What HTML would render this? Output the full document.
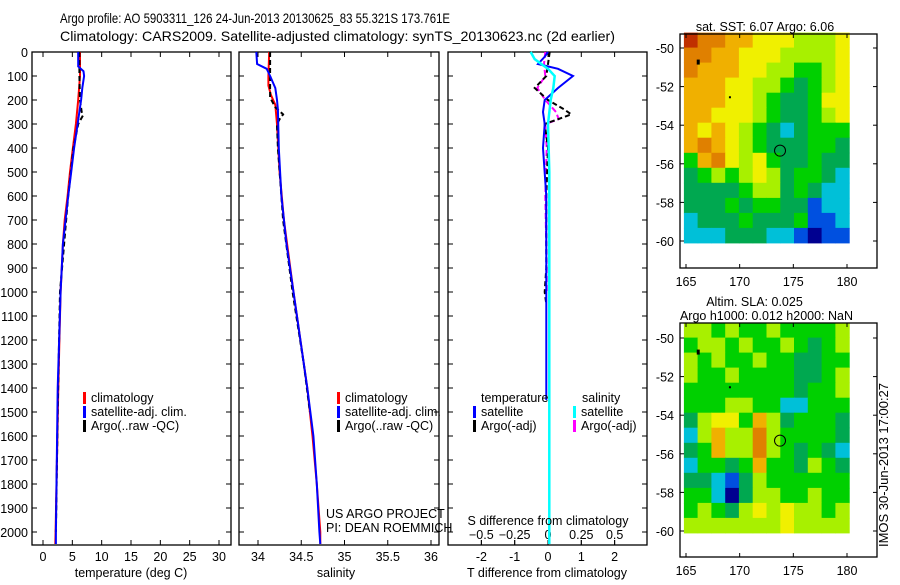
<!DOCTYPE html>
<html><head><meta charset="utf-8"><style>
body{margin:0;background:#fff;}
svg text{font-family:"Liberation Sans",sans-serif;font-size:12.5px;fill:#000;}
</style></head><body>
<svg id="fig" width="900" height="580" viewBox="0 0 900 580" xmlns="http://www.w3.org/2000/svg">
<text x="60" y="23" style="font-size:14px" textLength="390" lengthAdjust="spacingAndGlyphs">Argo profile: AO 5903311_126 24-Jun-2013 20130625_83 55.321S 173.761E</text>
<text x="60" y="41" style="font-size:14px" textLength="555" lengthAdjust="spacingAndGlyphs">Climatology: CARS2009. Satellite-adjusted climatology: synTS_20130623.nc (2d earlier)</text>
<g id="plots"></g>
<text transform="translate(888,465) rotate(-90)" text-anchor="middle" style="font-size:13px">IMOS 30-Jun-2013 17:00:27</text>
</svg>
<script>
// ---- data ----
const depthTicks=[0,100,200,300,400,500,600,700,800,900,1000,1100,1200,1300,1400,1500,1600,1700,1800,1900,2000];
const tempTicks=[0,5,10,15,20,25,30];
const salTicks=[34,34.5,35,35.5,36];
const tdiffTicks=[-2,-1,0,1,2];
const sdiffTicks=[-0.5,-0.25,0,0.25,0.5];
const lonTicks=[165,170,175,180];
const latTicks=[-50,-52,-54,-56,-58,-60];

const tClimDepth=[0,100,200,300,400,500,600,700,800,900,1000,1200,1400,1600,1800,2000,2050];
const tClim=[6.3,6.3,6.0,5.6,5.1,4.6,4.2,3.7,3.4,3.2,3.0,2.8,2.6,2.45,2.3,2.15,2.1];
const tSatDepth=[0,60,80,100,150,200,300,400,500,600,800,1000,1400,1600,1800,2000,2050];
const tSat=[6.0,6.0,6.9,7.0,6.7,6.5,5.9,5.3,4.8,4.3,3.4,3.0,2.5,2.4,2.3,2.2,2.2];
const tArgoDepth=[0,100,200,250,265,300,400,600,1000,1500,2000];
const tArgo=[6.2,6.2,6.3,6.6,6.8,6.0,5.2,4.3,2.9,2.5,2.2];

const sClimDepth=[0,100,140,180,220,300,500,700,1000,1200,1400,1600,1800,2000,2050];
const sClim=[34.13,34.12,34.12,34.15,34.2,34.22,34.25,34.3,34.41,34.49,34.57,34.63,34.68,34.72,34.72];
const sSatDepth=[0,50,70,100,150,200,240,400,600,800,1000,1200,1400,1600,1800,2000,2050];
const sSat=[33.98,33.99,34.1,34.14,34.2,34.22,34.23,34.24,34.27,34.33,34.41,34.49,34.57,34.64,34.68,34.71,34.72];
const sArgoDepth=[0,100,190,230,260,280,300,400,700,1000,1300,1500];
const sArgo=[34.14,34.14,34.14,34.2,34.29,34.25,34.22,34.23,34.29,34.4,34.53,34.6];

const dTSatDepth=[0,20,50,70,100,150,200,250,300,400,600,1000,1400,1450];
const dTSat=[0,-0.1,-0.3,0.3,0.75,0.3,-0.1,-0.15,-0.1,-0.15,-0.05,-0.05,-0.05,-0.05];
const dSSatDepth=[0,30,70,100,150,200,300,500,1000,2000,2050];
const dSSat=[-0.13,-0.1,0.0,0.05,0.04,0.02,0.0,0.01,0.01,0.01,0.01];
const dTArgoDepth=[0,50,100,150,200,240,260,300,400,600,900,1000,1050];
const dTArgo=[0.05,0.0,-0.05,-0.4,0.0,0.5,0.7,-0.1,0.0,-0.05,-0.05,-0.1,-0.05];
const dSArgoDepth=[0,50,100,150,200,250,280,300,400,600,900,1000];
const dSArgo=[-0.02,-0.03,-0.02,-0.08,-0.02,0.06,0.08,-0.02,-0.01,-0.02,-0.01,-0.01];

const sstGrid=[
"988776665556","887766655556","877766554456","777665543456","777665433466","776665433456",
"767654323444","787654333443","478656433433","345456534432","333345534322","333434433122",
"233343334112","222333221011"];
const slaGrid=[
"554544544445","455454454345","545445443344","544544443345","444444443445","444554422444",
"356647534443","257558544443","347558543432","244347443543","332135444444","442035544544",
"454356565545","555555565555"];
const palette=['#000090','#0050e0','#00c0d8','#00a850','#00d000','#a8f000','#f0f000','#f0b000','#e08000','#c03000'];

// ---- drawing ----
const NS='http://www.w3.org/2000/svg';
const root=document.getElementById('plots');
function el(tag,attrs,parent){const e=document.createElementNS(NS,tag);for(const k in attrs)e.setAttribute(k,attrs[k]);(parent||root).appendChild(e);return e;}
function txt(x,y,s,anchor,parent){const t=el('text',{x:x,y:y,'text-anchor':anchor||'start'},parent);t.textContent=s;return t;}

const Y0=52,Y1=545;
function yD(d){return 52+d*0.24;}

function panel(x0,x1,name){
  const g=el('g',{});
  
  
  const r=el('rect',{x:x0,y:Y0,width:x1-x0,height:Y1-Y0,fill:'none',stroke:'#000','stroke-width':1.3},g);
  
  
  depthTicks.forEach(d=>{el('line',{x1:x0,x2:x0+5,y1:yD(d),y2:yD(d),stroke:'#000'},g);el('line',{x1:x1,x2:x1-5,y1:yD(d),y2:yD(d),stroke:'#000'},g);});
  return g;
}
function xTicks(g,vals,fx,labels,ly){
  vals.forEach((v,i)=>{const x=fx(v);el('line',{x1:x,x2:x,y1:Y0,y2:Y0+5,stroke:'#000'},g);el('line',{x1:x,x2:x,y1:Y1,y2:Y1-5,stroke:'#000'},g);
    if(labels){const t=txt(x,ly,labels[i],'middle',g);}});
}
function line(g,ds,vs,fx,color,dash,name,w){
  const pts=ds.map((d,i)=>fx(vs[i]).toFixed(1)+','+yD(d).toFixed(1)).join(' ');
  const p=el('polyline',{points:pts,fill:'none',stroke:color,'stroke-width':w||2,'stroke-dasharray':dash||'none'},g);
  
  
}
function legend(g,x,y,items){
  items.forEach((it,i)=>{const yy=y+i*14;el('rect',{x:x,y:yy-10,width:3,height:12,fill:it[1]},g);const t=txt(x+8,yy,it[0],'start',g);
    });
}

depthTicks.forEach(d=>{const t=txt(28,yD(d)+5,String(d),'end');});

// Panel 1: temperature
const fT=v=>43+v*5.867;
const g1=panel(32,231,'temperature-panel');
xTicks(g1,tempTicks,fT,tempTicks.map(String),561);
line(g1,tClimDepth,tClim,fT,'#f00','none','temp-climatology-line');
line(g1,tArgoDepth,tArgo,fT,'#000','5,3','temp-argo-line');
line(g1,tSatDepth,tSat,fT,'#00f','none','temp-satellite-line');
legend(g1,83,402,[['climatology','#f00'],['satellite-adj. clim.','#00f'],['Argo(..raw -QC)','#000']]);
txt(131,577,'temperature (deg C)','middle',g1);

// Panel 2: salinity
const fS=v=>258+(v-34)*86.5;
const g2=panel(239,439,'salinity-panel');
xTicks(g2,salTicks,fS,salTicks.map(String),561);
line(g2,sClimDepth,sClim,fS,'#f00','none','sal-climatology-line');
line(g2,sArgoDepth,sArgo,fS,'#000','5,3','sal-argo-line');
line(g2,sSatDepth,sSat,fS,'#00f','none','sal-satellite-line');
legend(g2,337,402,[['climatology','#f00'],['satellite-adj. clim.','#00f'],['Argo(..raw -QC)','#000']]);
txt(326,518,'US ARGO PROJECT','start',g2);
txt(326,532,'PI: DEAN ROEMMICH','start',g2);
txt(336,577,'salinity','middle',g2);

// Panel 3: differences
const fDT=v=>548+v*33.3;
const fDS=v=>548+v*133.3;
const g3=panel(448,647,'difference-panel');
xTicks(g3,tdiffTicks,fDT,tdiffTicks.map(String),561);
sdiffTicks.forEach((v,i)=>{const x=fDS(v);el('line',{x1:x,x2:x,y1:545,y2:540,stroke:'#000'},g3);txt(x,539,['\u22120.5','\u22120.25','0','0.25','0.5'][i],'middle',g3);});
line(g3,dSArgoDepth,dSArgo,fDS,'#f0f','6,3','sdiff-argo-line');
line(g3,dTArgoDepth,dTArgo,fDT,'#000','5,3','tdiff-argo-line');
line(g3,dTSatDepth,dTSat,fDT,'#00f','none','tdiff-satellite-line');
line(g3,dSSatDepth,dSSat,fDS,'#0ff','none','sdiff-satellite-line',2.5);
txt(481,402,'temperature','start',g3);
txt(582,402,'salinity','start',g3);
legend(g3,473,416,[['satellite','#00f'],['Argo(-adj)','#000']]);
legend(g3,573,416,[['satellite','#0ff'],['Argo(-adj)','#f0f']]);
txt(548,525,'S difference from climatology','middle',g3);
txt(547,577,'T difference from climatology','middle',g3);

// Maps
const fLon=v=>686+(v-165)*10.733;
function map(grid,by0,latY50,latY60,title,name){
  const g=el('g',{});
  
  
  const fLat=v=>latY50+(-50-v)*(latY60-latY50)/10;
  const bx0=680,bx1=877,by1=by0+234;
  const ix0=fLon(164.8),ix1=fLon(180.2),iy0=fLat(-49.2),iy1=fLat(-60.1);
  const rows=grid.length,cols=grid[0].length;
  const cw=(ix1-ix0)/cols,ch=(iy1-iy0)/rows;
  grid.forEach((row,r)=>{for(let c=0;c<cols;c++){const cell=el('rect',{x:(ix0+c*cw).toFixed(1),y:(iy0+r*ch).toFixed(1),width:(cw+0.5).toFixed(1),height:(ch+0.5).toFixed(1),fill:palette[+row[c]]},g);
    
    }});
  const fr=el('rect',{x:bx0,y:by0,width:bx1-bx0,height:by1-by0,fill:'none',stroke:'#000','stroke-width':1.3},g);
  
  
  lonTicks.forEach(v=>{const x=fLon(v);el('line',{x1:x,x2:x,y1:by0,y2:by0+4,stroke:'#000'},g);el('line',{x1:x,x2:x,y1:by1,y2:by1-4,stroke:'#000'},g);txt(x,by1+18,String(v),'middle',g);});
  latTicks.forEach(v=>{const y=fLat(v);el('line',{x1:bx0,x2:bx0+4,y1:y,y2:y,stroke:'#000'},g);el('line',{x1:bx1,x2:bx1-4,y1:y,y2:y,stroke:'#000'},g);txt(674,y+5,String(v),'end',g);});
  const pt=el('circle',{cx:fLon(173.76),cy:fLat(-55.32),r:5.5,fill:'none',stroke:'#000','stroke-width':1},g);
  
  
  el('rect',{x:fLon(166),y:fLat(-50.6),width:3,height:5,fill:'#000'},g);
  el('rect',{x:fLon(169),y:fLat(-52.5),width:2,height:2,fill:'#000'},g);
  title.forEach((s,i)=>{const t=txt(title.length===1?765:fLon(172.5)+(i===0?-12:0),(by0-17)+i*14-(title.length-1)*14+14,s,'middle',g);});
}
map(sstGrid,34,48,241,['sat. SST: 6.07 Argo: 6.06'],'sst-map');
map(slaGrid,323,338,531,['Altim. SLA: 0.025','Argo h1000: 0.012 h2000: NaN'],'sla-map');
</script>
</body></html>
